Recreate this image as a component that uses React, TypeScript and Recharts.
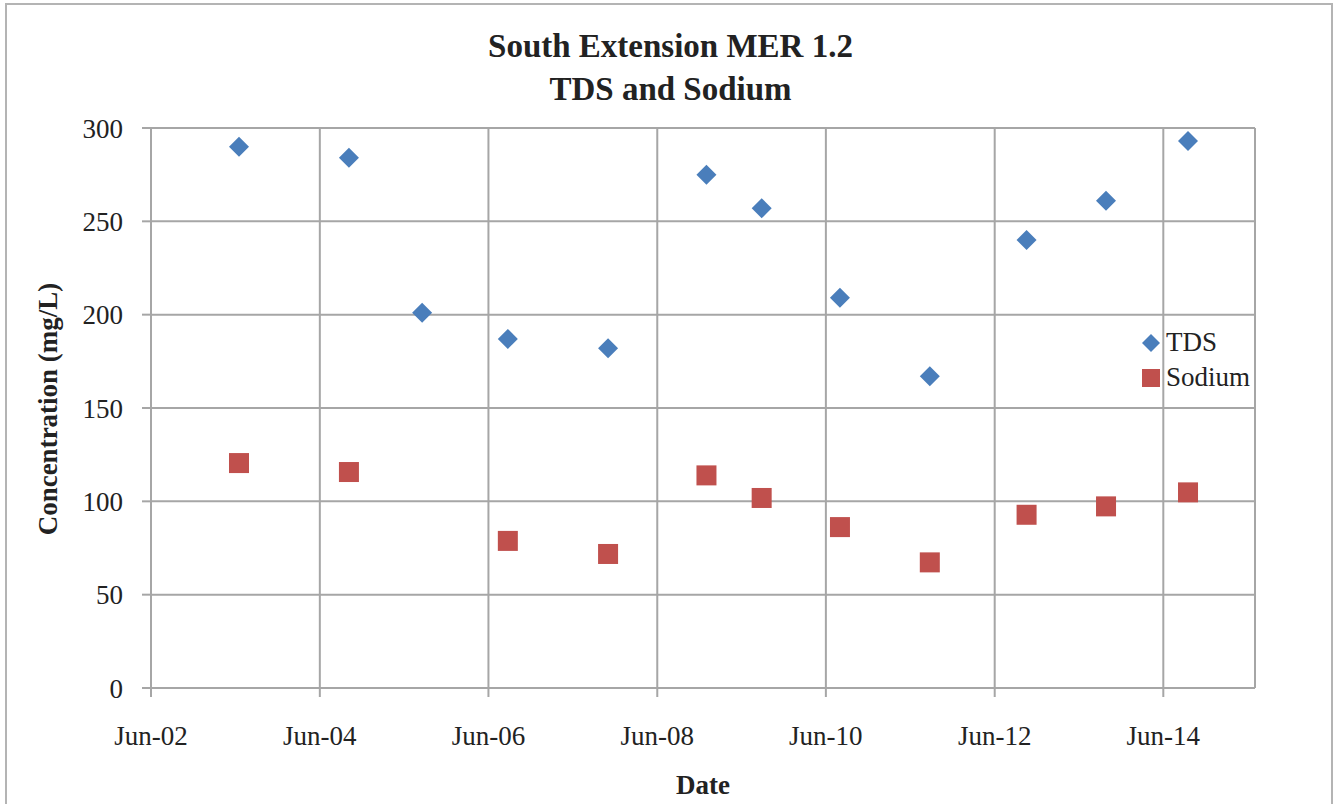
import React from 'react';
import {
  ScatterChart, Scatter, XAxis, YAxis, CartesianGrid,
} from 'recharts';

// sample dates
const sampleDates = [
  '2003-06-17', '2004-10-05', '2005-08-18', '2006-08-24', '2007-11-01', '2008-12-31',
  '2009-08-27', '2010-08-01', '2011-08-25', '2012-10-17', '2013-09-26', '2014-09-16',
];
const tdsValues = [290, 284, 201, 187, 182, 275, 257, 209, 167, 240, 261, 293];
const sodiumValues: (number | null)[] = [120.5, 115.7, null, 78.8, 71.8, 113.9, 101.8, 86.2, 67.3, 92.8, 97.3, 104.8];

const majorYears = [2002, 2004, 2006, 2008, 2010, 2012, 2014];
const minorYears = [2003, 2005, 2007, 2009, 2011, 2013, 2015];
const yTicks = [0, 50, 100, 150, 200, 250, 300];

const FONT = '"Liberation Serif", "Times New Roman", serif';
const GRID = '#a6a6a6';
const TDS_COLOR = '#4a7ebb';
const NA_COLOR = '#c0504d';

const junOf = (y: number) => Date.UTC(y, 5, 1);
const xDomain = [junOf(2002), Date.UTC(2015, 6, 3)];

function toPoints(vals: (number | null)[]) {
  return sampleDates
    .map((d, i) => ({ date: Date.parse(d), value: vals[i] }))
    .filter((p) => p.value != null);
}

const tdsData = toPoints(tdsValues);
const sodiumData = toPoints(sodiumValues);

function formatTick(ts: number) {
  const yy = new Date(ts).getUTCFullYear() % 100;
  return `Jun-${String(yy).padStart(2, '0')}`;
}

function Diamond({ cx, cy, fill }: any) {
  const r = 10;
  return <polygon points={`${cx},${cy - r} ${cx + r},${cy} ${cx},${cy + r} ${cx - r},${cy}`} fill={fill} />;
}

function Square({ cx, cy, fill }: any) {
  return <rect x={cx - 10} y={cy - 10} width={20} height={20} fill={fill} />;
}

const series = [
  { name: 'TDS', color: TDS_COLOR, shape: 'diamond' },
  { name: 'Sodium', color: NA_COLOR, shape: 'square' },
];

function LegendBox() {
  return (
    <div style={{ position: 'absolute', left: 1140, top: 325, fontFamily: FONT, fontSize: 27, color: '#222' }}>
      {series.map((s) => (
        <div key={s.name} style={{ display: 'flex', alignItems: 'center', height: 35 }}>
          <svg width={22} height={22} style={{ marginRight: 4 }}>
            {s.shape === 'diamond'
              ? <polygon points="11,2 20,11 11,20 2,11" fill={s.color} />
              : <rect x={2} y={2} width={18} height={18} fill={s.color} />}
          </svg>
          <span>{s.name}</span>
        </div>
      ))}
    </div>
  );
}

export default function App() {
  const tickStyle = { fontFamily: FONT, fontSize: 27, fill: '#222' };
  return (
    <div style={{ position: 'absolute', left: 0, top: 0, width: 1333, height: 804, overflow: 'hidden', background: '#fff' }}>
      <div style={{
        position: 'absolute', left: 5, top: 3, width: 1328, height: 900,
        border: '2px solid #b4b4b4', boxSizing: 'border-box',
      }} />
      <div style={{
        position: 'absolute', left: 0, width: 1341, top: 25, textAlign: 'center',
        fontFamily: FONT, fontWeight: 'bold', fontSize: 33, lineHeight: '43px', color: '#222',
      }}>
        South Extension MER 1.2<br />TDS and Sodium
      </div>
      <ScatterChart width={1333} height={804} margin={{ top: 128, right: 78, left: 0, bottom: 56 }}>
        <CartesianGrid stroke={GRID} strokeWidth={2} />
        <XAxis
          dataKey="date"
          type="number"
          domain={xDomain}
          ticks={majorYears.map(junOf)}
          tickFormatter={formatTick}
          allowDataOverflow
          height={60}
          tick={tickStyle}
          tickSize={9}
          tickMargin={29}
          axisLine={{ stroke: GRID, strokeWidth: 2 }}
          tickLine={{ stroke: GRID, strokeWidth: 2 }}
        />
        <XAxis
          xAxisId="minor"
          dataKey="date"
          type="number"
          domain={xDomain}
          ticks={minorYears.map(junOf)}
          allowDataOverflow
          mirror
          tick={false}
          tickSize={9}
          axisLine={false}
          tickLine={{ stroke: GRID, strokeWidth: 2 }}
        />
        <YAxis
          dataKey="value"
          type="number"
          domain={[0, 300]}
          ticks={yTicks}
          width={151}
          tick={tickStyle}
          tickSize={9}
          tickMargin={19}
          axisLine={{ stroke: GRID, strokeWidth: 2 }}
          tickLine={{ stroke: GRID, strokeWidth: 2 }}
        />
        <Scatter name="TDS" data={tdsData} fill={TDS_COLOR} shape={Diamond} isAnimationActive={false} />
        <Scatter name="Sodium" data={sodiumData} fill={NA_COLOR} shape={Square} isAnimationActive={false} />
      </ScatterChart>
      <LegendBox />
      <div style={{
        position: 'absolute', left: 48, top: 409, transform: 'translate(-50%, -50%) rotate(-90deg)',
        whiteSpace: 'nowrap', fontFamily: FONT, fontWeight: 'bold', fontSize: 27, color: '#222',
      }}>
        Concentration (mg/L)
      </div>
      <div style={{
        position: 'absolute', left: 703, top: 785, transform: 'translate(-50%, -50%)',
        fontFamily: FONT, fontWeight: 'bold', fontSize: 27, color: '#222',
      }}>
        Date
      </div>
    </div>
  );
}
